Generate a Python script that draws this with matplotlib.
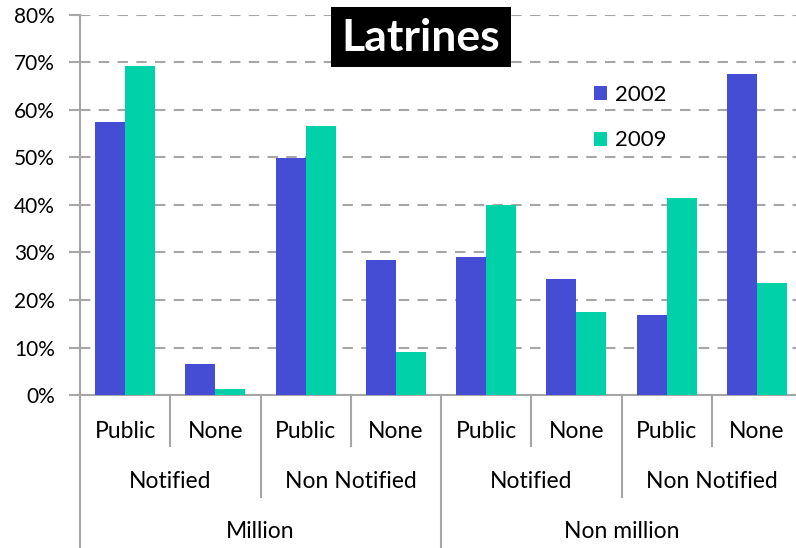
import numpy as np
import matplotlib
matplotlib.use("Agg")
import matplotlib.pyplot as plt
from matplotlib.patches import Rectangle
from matplotlib.ticker import PercentFormatter

plt.rcParams['font.family'] = ['Lato', 'DejaVu Sans']

# Latrine access by city size / notification status / provision
cities = ['Million', 'Non million']
status = ['Notified', 'Non Notified']
provision = ['Public', 'None']
years = ['2002', '2009']
share_2002 = [0.575, 0.065, 0.499, 0.284, 0.291, 0.244, 0.168, 0.676]
share_2009 = [0.692, 0.012, 0.567, 0.091, 0.401, 0.174, 0.415, 0.236]

COL_2002 = '#444dd4'
COL_2009 = '#00d1a8'
GRID = '#a6a6a6'

W, H = 796, 548
fig = plt.figure(figsize=(W / 100, H / 100), dpi=100)
# axes in pixels: left 80, top 15, bottom 395, category pitch ~90px
ax = fig.add_axes([80 / W, (H - 395) / H, 722 / W, 380 / H])

n = len(share_2002)
x = np.arange(n)
bw = 1 / 3
ax.bar(x - bw / 2, share_2002, bw, color=COL_2002, label=years[0], zorder=3)
ax.bar(x + bw / 2, share_2009, bw, color=COL_2009, label=years[1], zorder=3)

ax.set_xlim(-0.5, n - 0.5)
ax.set_ylim(0, 0.8)
ax.set_yticks(np.arange(0, 0.81, 0.1))
ax.yaxis.set_major_formatter(PercentFormatter(1.0, decimals=0))
ax.tick_params(axis='y', length=8, width=1.5, color=GRID, labelsize=15, pad=10)
ax.set_xticks([])
ax.grid(axis='y', color=GRID, linestyle=(0, (5, 4)), linewidth=1.5, zorder=0)
for s in ['top', 'right']:
    ax.spines[s].set_visible(False)
ax.spines['left'].set_color(GRID)
ax.spines['left'].set_linewidth(1.5)
ax.spines['bottom'].set_color(GRID)
ax.spines['bottom'].set_linewidth(1.5)

# multi-level category axis
tr = ax.get_xaxis_transform()
ph = 380.0
row_y = [-36 / ph, -86 / ph, -137 / ph]
sep_y = [-51 / ph, -102 / ph, -153 / ph]
CAT_FS = 16.5

labels1 = [provision[i % 2] for i in range(n)]
for i, lab in enumerate(labels1):
    ax.text(x[i], row_y[0], lab, transform=tr, ha='center', va='center', fontsize=CAT_FS)
k = 0
for c in cities:
    for st in status:
        ax.text(2 * k + 0.5, row_y[1], st, transform=tr, ha='center', va='center', fontsize=CAT_FS)
        k += 1
for j, c in enumerate(cities):
    ax.text(4 * j + 1.5, row_y[2], c, transform=tr, ha='center', va='center', fontsize=CAT_FS)

for b in np.arange(-0.5, n, 1.0):
    idx = int(b + 0.5)
    if idx % 4 == 0:
        y0 = sep_y[2]
    elif idx % 2 == 0:
        y0 = sep_y[1]
    else:
        y0 = sep_y[0]
    ax.plot([b, b], [0, y0], transform=tr, color=GRID, linewidth=1.5, clip_on=False)

leg = ax.legend(loc='upper left', bbox_to_anchor=(585 / W, 1 - 76 / H),
                bbox_transform=fig.transFigure, frameon=False, fontsize=16,
                handlelength=0.6, handleheight=0.6, handletextpad=0.35,
                labelspacing=1.15, borderaxespad=0)

# title in a black box
fig.add_artist(Rectangle((331 / W, 1 - 67 / H), 180 / W, 60 / H,
                         transform=fig.transFigure, facecolor='black',
                         edgecolor='none', zorder=5))
fig.text(421 / W, 1 - 38 / H, 'Latrines', ha='center', va='center',
         fontsize=32, fontweight='bold', color='white', zorder=6)

fig.savefig('out.png', dpi=100)
